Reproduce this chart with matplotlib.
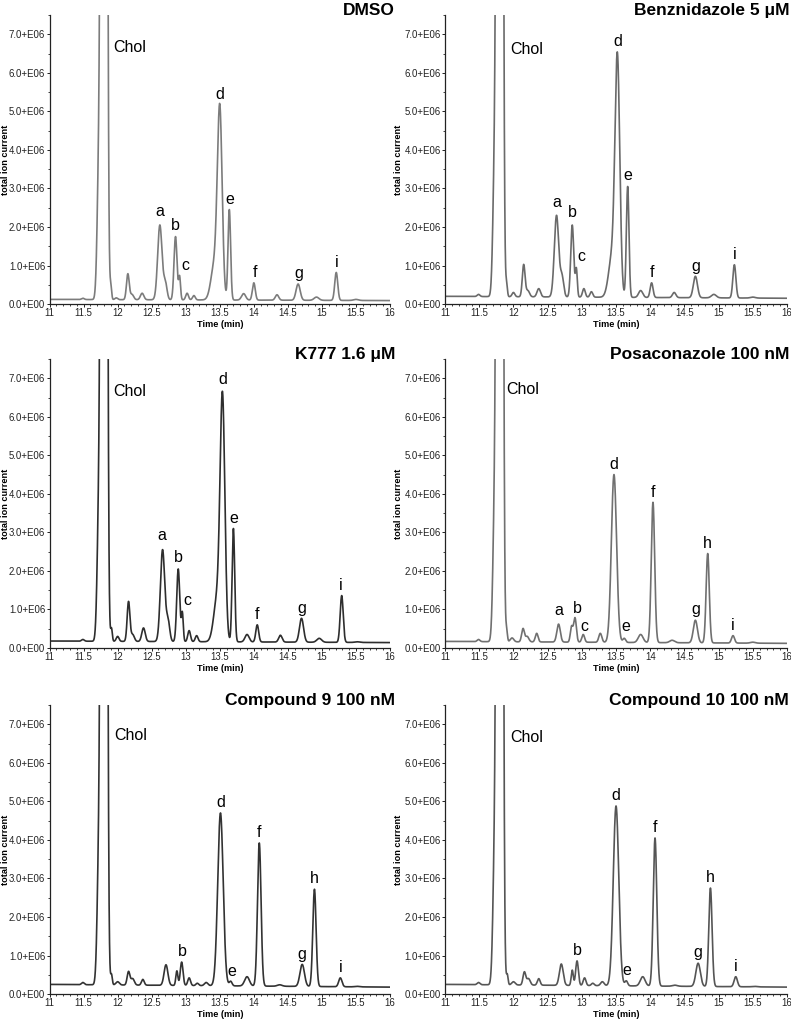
import numpy as np
import matplotlib
matplotlib.use("Agg")
import matplotlib.pyplot as plt
from matplotlib.ticker import FuncFormatter, MultipleLocator

plt.rcParams['font.family'] = ['Liberation Sans', 'DejaVu Sans']

# peak tables: retention time (min), apex height (E06), width (sigma, min)
# the second/third entries are the cholesterol peak and its fronting edge
dmso_rt = [11.49, 11.80, 11.725, 11.90, 11.98, 12.15, 12.21, 12.36, 12.62, 12.70, 12.85, 12.91, 13.02,
           13.12, 13.42, 13.50, 13.64, 13.85, 14.00, 14.34, 14.65, 14.92, 15.21, 15.50]
dmso_h = [0.15, 100, 3.5, 0.45, 0.16, 0.78, 0.25, 0.28, 2.05, 0.55, 1.75, 0.70, 0.28,
          0.22, 1.0, 4.95, 2.45, 0.27, 0.55, 0.24, 0.52, 0.18, 0.82, 0.12]
dmso_w = [0.02, 0.027, 0.025, 0.012, 0.02, 0.02, 0.025, 0.025, 0.032, 0.025, 0.022, 0.014, 0.02,
          0.02, 0.05, 0.035, 0.019, 0.03, 0.021, 0.025, 0.03, 0.035, 0.022, 0.035]

benz_rt = [11.49, 11.80, 11.725, 11.90, 12.0, 12.15, 12.21, 12.37, 12.63, 12.71, 12.86, 12.92, 13.03,
           13.14, 13.44, 13.52, 13.67, 13.86, 14.02, 14.35, 14.66, 14.93, 15.23, 15.50]
benz_h = [0.25, 100, 3.5, 0.5, 0.3, 1.02, 0.35, 0.4, 2.3, 0.7, 2.05, 0.9, 0.4,
          0.32, 1.2, 6.25, 3.05, 0.35, 0.55, 0.3, 0.72, 0.25, 1.02, 0.18]
benz_w = dmso_w

k777_rt = [11.49, 11.80, 11.725, 11.91, 12.0, 12.16, 12.22, 12.38, 12.66, 12.74, 12.89, 12.95, 13.05,
           13.16, 13.46, 13.54, 13.70, 13.90, 14.05, 14.39, 14.70, 14.96, 15.29, 15.52]
k777_h = [0.22, 100, 3.5, 0.5, 0.3, 1.2, 0.35, 0.52, 2.55, 0.7, 2.05, 0.9, 0.45,
          0.32, 1.25, 6.35, 3.1, 0.35, 0.6, 0.33, 0.77, 0.25, 1.36, 0.16]
k777_w = dmso_w

posa_rt = [11.49, 11.80, 11.725, 11.90, 11.98, 12.14, 12.20, 12.34, 12.66, 12.85, 12.90, 13.02, 13.27,
           13.47, 13.62, 13.86, 14.04, 14.32, 14.66, 14.84, 15.21, 15.50]
posa_h = [0.22, 100, 3.5, 0.45, 0.26, 0.5, 0.3, 0.38, 0.62, 0.55, 0.78, 0.35, 0.38,
          4.5, 0.25, 0.35, 3.78, 0.2, 0.72, 2.45, 0.32, 0.15]
posa_w = [0.02, 0.027, 0.025, 0.012, 0.025, 0.02, 0.025, 0.02, 0.025, 0.018, 0.02, 0.02, 0.022,
          0.038, 0.02, 0.035, 0.025, 0.035, 0.03, 0.023, 0.022, 0.035]

cpd9_rt = [11.49, 11.80, 11.725, 11.91, 12.0, 12.16, 12.22, 12.37, 12.71, 12.87, 12.94, 13.05, 13.17,
           13.30, 13.51, 13.66, 13.90, 14.08, 14.38, 14.71, 14.89, 15.27, 15.52]
cpd9_h = [0.3, 100, 3.5, 0.5, 0.32, 0.58, 0.4, 0.38, 0.76, 0.6, 0.83, 0.42, 0.28,
          0.3, 4.7, 0.33, 0.45, 3.92, 0.24, 0.77, 2.72, 0.42, 0.2]
cpd9_w = [0.02, 0.027, 0.025, 0.012, 0.025, 0.02, 0.025, 0.02, 0.028, 0.015, 0.02, 0.02, 0.02,
          0.025, 0.04, 0.02, 0.035, 0.026, 0.035, 0.033, 0.024, 0.024, 0.035]

cpd10_rt = [11.49, 11.80, 11.725, 11.91, 12.0, 12.16, 12.22, 12.37, 12.70, 12.86, 12.93, 13.04, 13.16,
            13.30, 13.50, 13.65, 13.89, 14.07, 14.36, 14.70, 14.88, 15.25, 15.52]
cpd10_h = [0.3, 100, 3.5, 0.5, 0.32, 0.57, 0.4, 0.4, 0.78, 0.62, 0.86, 0.42, 0.28,
           0.32, 4.88, 0.34, 0.45, 4.05, 0.23, 0.8, 2.75, 0.45, 0.2]
cpd10_w = cpd9_w

# baseline at 11 and 16 min (E06)
baselines = [(0.12, 0.09), (0.20, 0.15), (0.18, 0.14), (0.17, 0.12), (0.25, 0.18), (0.25, 0.18)]

titles = ["DMSO", "Benznidazole 5 \u03bcM", "K777 1.6 \u03bcM", "Posaconazole 100 nM",
          "Compound 9 100 nM", "Compound 10 100 nM"]
colors = ["#7c7c7c", "#6a6a6a", "#2e2e2e", "#707070", "#333333", "#555555"]

# peak letters: (letter, x, baseline y in E06)
dmso_tags = [("a", 12.62, 2.28), ("b", 12.85, 1.93), ("c", 13.0, 0.88), ("d", 13.5, 5.33),
             ("e", 13.65, 2.6), ("f", 14.01, 0.7), ("g", 14.66, 0.67), ("i", 15.22, 0.97)]
benz_tags = [("a", 12.63, 2.53), ("b", 12.86, 2.25), ("c", 13.0, 1.12), ("d", 13.52, 6.7),
             ("e", 13.67, 3.23), ("f", 14.02, 0.7), ("g", 14.67, 0.87), ("i", 15.23, 1.17)]
k777_tags = [("a", 12.65, 2.8), ("b", 12.89, 2.22), ("c", 13.03, 1.12), ("d", 13.54, 6.85),
             ("e", 13.7, 3.25), ("f", 14.04, 0.75), ("g", 14.71, 0.92), ("i", 15.28, 1.51)]
posa_tags = [("a", 12.67, 0.85), ("b", 12.93, 0.9), ("c", 13.04, 0.45), ("d", 13.47, 4.65),
             ("e", 13.64, 0.45), ("f", 14.04, 3.93), ("g", 14.66, 0.87), ("h", 14.84, 2.6),
             ("i", 15.21, 0.47)]
cpd9_tags = [("b", 12.95, 0.98), ("d", 13.51, 4.85), ("e", 13.67, 0.48), ("f", 14.08, 4.07),
             ("g", 14.71, 0.92), ("h", 14.89, 2.87), ("i", 15.27, 0.57)]
cpd10_tags = [("b", 12.93, 1.01), ("d", 13.5, 5.03), ("e", 13.66, 0.49), ("f", 14.07, 4.2),
              ("g", 14.7, 0.95), ("h", 14.88, 2.9), ("i", 15.25, 0.6)]
chol_pos = [(11.93, 6.55), (11.95, 6.5), (11.93, 6.55), (11.9, 6.6), (11.95, 6.6), (11.95, 6.55)]

peaks = [(dmso_rt, dmso_h, dmso_w), (benz_rt, benz_h, benz_w), (k777_rt, k777_h, k777_w),
         (posa_rt, posa_h, posa_w), (cpd9_rt, cpd9_h, cpd9_w), (cpd10_rt, cpd10_h, cpd10_w)]
tags = [dmso_tags, benz_tags, k777_tags, posa_tags, cpd9_tags, cpd10_tags]

t = np.linspace(11, 16, 4001)


def chromatogram(rt, h, w, base):
    b = base[0] + (base[1] - base[0]) * (t - 11) / 5
    y = b.copy()
    for r, hh, ww in zip(rt, h, w):
        b_at = base[0] + (base[1] - base[0]) * (r - 11) / 5
        y += (hh - b_at) * np.exp(-0.5 * ((t - r) / ww) ** 2)
    return y * 1e6


def fmt(v, pos):
    if abs(v) < 1:
        return "0.0+E00"
    return "%.1f+E06" % (v / 1e6)


fig = plt.figure(figsize=(7.91, 10.23), dpi=100)
lefts = [0.0626, 0.5626]
widths = [0.4305, 0.4324]
bottoms = [0.7028, 0.3666, 0.0283]
height = 0.2825
ylab_x = [-0.117, -0.123]

for i in range(6):
    row, col = divmod(i, 2)
    ax = fig.add_axes([lefts[col], bottoms[row], widths[col], height])
    rt, h, w = peaks[i]
    ax.plot(t, chromatogram(rt, h, w, baselines[i]), color=colors[i], lw=1.2)
    ax.set_xlim(11, 16)
    ax.set_ylim(0, 7.5e6)
    ax.xaxis.set_major_locator(MultipleLocator(0.5))
    ax.xaxis.set_minor_locator(MultipleLocator(0.1))
    ax.yaxis.set_major_locator(MultipleLocator(1e6))
    ax.yaxis.set_minor_locator(MultipleLocator(0.5e6))
    ax.yaxis.set_major_formatter(FuncFormatter(fmt))
    ax.xaxis.set_major_formatter(FuncFormatter(lambda v, p: ("%g" % v)))
    for s in ["top", "right"]:
        ax.spines[s].set_visible(False)
    for s in ["left", "bottom"]:
        ax.spines[s].set_linewidth(0.9)
        ax.spines[s].set_color("#222222")
    ax.tick_params(axis="both", which="major", length=2.5, width=0.7, labelsize=6.9, pad=0.6,
                   colors="#222222")
    ax.tick_params(axis="both", which="minor", length=1.6, width=0.6, colors="#222222")
    ax.set_xlabel("Time (min)", fontsize=6.6, fontweight="bold", labelpad=1)
    ax.set_ylabel("total ion current", fontsize=6.6, fontweight="bold")
    ax.yaxis.set_label_coords(ylab_x[col], 0.5)
    ax.text(1.0 + (0.015 if col == 0 else 0.006), 1.0, titles[i], transform=ax.transAxes,
            ha="right", va="baseline", fontsize=12.5, fontweight="bold")
    ax.text(chol_pos[i][0], chol_pos[i][1] * 1e6, "Chol", fontsize=11.5, ha="left", va="baseline")
    for letter, x, y in tags[i]:
        ax.text(x, y * 1e6, letter, fontsize=11.5, ha="center", va="baseline")

fig.savefig("out.png", dpi=100)
